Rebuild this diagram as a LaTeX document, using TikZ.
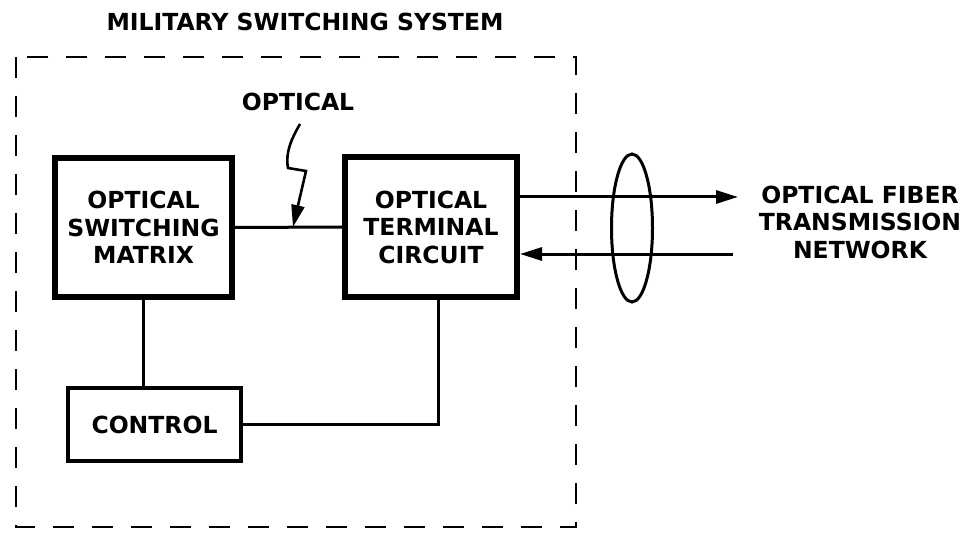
\documentclass[tikz,border=0pt]{standalone}
\usepackage{fontspec}
\setmainfont{DejaVu Sans}[BoldFont={DejaVu Sans Bold}]
\usetikzlibrary{arrows.meta,shapes.geometric}
\begin{document}
\begin{tikzpicture}[x=1pt,y=-1pt,line width=3pt,
  font=\fontsize{23.5}{27.5}\selectfont\bfseries,
  arr/.style={-{Triangle[length=22pt,width=13pt]}},
  blk/.style={draw,line width=6pt,align=center,inner sep=0pt},
  ctl/.style={draw,line width=4pt,align=center,inner sep=0pt},
  txt/.style={align=center,inner sep=0pt}]
  \useasboundingbox (0,0) rectangle (969,540);
  % system boundary
  \draw[line width=2.4pt,dash pattern=on 21pt off 18pt] (16,57) rectangle (576,527);
  \node[txt] (title) at (305,22) {MILITARY SWITCHING SYSTEM};
  % blocks
  \node[blk,minimum width=177pt,minimum height=139pt] (osm) at (143.5,227.5) {OPTICAL\\SWITCHING\\MATRIX};
  \node[blk,minimum width=172pt,minimum height=140pt] (otc) at (431,227) {OPTICAL\\TERMINAL\\CIRCUIT};
  \node[ctl,minimum width=173pt,minimum height=73pt] (ctrl) at (154.5,424.5) {CONTROL};
  \draw (osm.east) -- (otc.west);
  \draw (osm.south) -- (osm.south |- ctrl.north);
  \draw ([xshift=7pt]otc.south) |- (ctrl.east);
  % optical signal
  \node[txt] (opt) at (298,102) {OPTICAL};
  \coordinate (lt) at (300,124);
  \coordinate (ltip) at (293,227);
  \draw[arr,line width=2.6pt] (lt) .. controls (292,138) and (285,152) .. (288,168) -- (306,171) -- (ltip);
  % fiber link
  \coordinate (fout) at (738,197);
  \coordinate (fin) at (733,254);
  \draw[arr] (fout -| otc.east) -- (fout);
  \draw[arr] (fin) -- (fin -| otc.east);
  \node[draw,ellipse,minimum width=41pt,minimum height=148pt,inner sep=0pt] (bundle) at (632,228) {};
  \node[txt] (net) at (860,222) {OPTICAL FIBER\\TRANSMISSION\\NETWORK};
\end{tikzpicture}
\end{document}
